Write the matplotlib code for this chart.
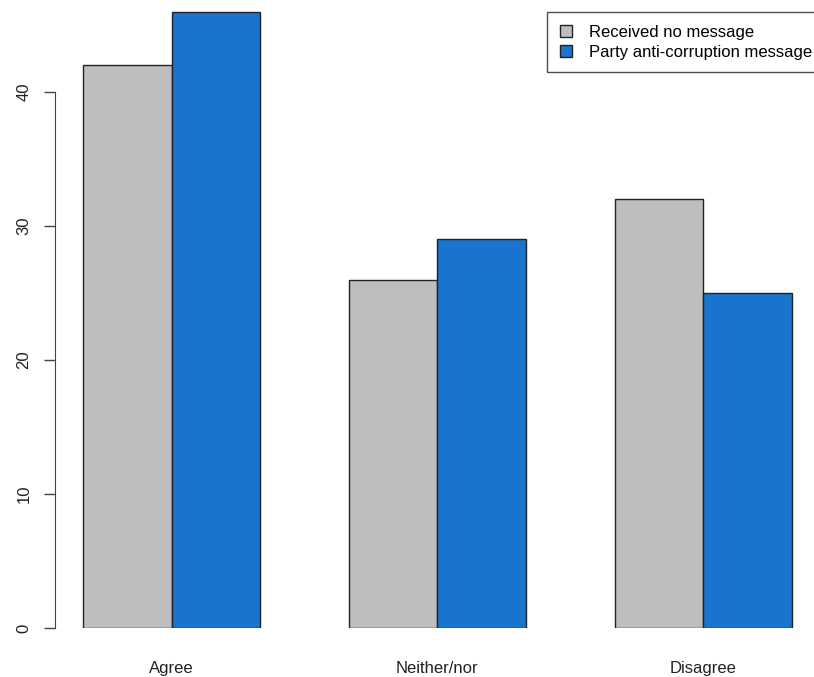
import numpy as np
import matplotlib.pyplot as plt
from matplotlib.patches import Patch

plt.rcParams["font.family"] = ["Liberation Sans", "DejaVu Sans"]

# survey answers, percent
categories = ["Agree", "Neither/nor", "Disagree"]
no_message = [42, 26, 32]
party_message = [46, 29, 25]
series_names = ["Received no message", "Party anti-corruption message"]
colors = ["#BEBEBE", "#1874CD"]

W, H = 814, 677
fig = plt.figure(figsize=(W / 100, H / 100), dpi=100)
# axes placed so the left spine is the R-style y axis and the bottom is y=0
ax = fig.add_axes([55 / W, 49 / H, (W - 55) / W, 628 / H])

# R barplot(beside=TRUE) layout: bar lefts at 1,2 / 4,5 / 7,8
lefts = np.array([1, 4, 7])
ax.bar(lefts, no_message, width=1, align="edge", color=colors[0],
       edgecolor="#222222", linewidth=1)
ax.bar(lefts + 1, party_message, width=1, align="edge", color=colors[1],
       edgecolor="#222222", linewidth=1)

ax.set_xlim(0.684, 0.684 + (W - 55) / 88.6)
ax.set_ylim(0, 628 / 13.4)

for s in ["top", "right", "bottom"]:
    ax.spines[s].set_visible(False)
ax.spines["left"].set_bounds(0, 40)
ax.spines["left"].set_color("#444444")

ax.set_yticks([0, 10, 20, 30, 40])
ax.set_yticklabels(["0", "10", "20", "30", "40"], rotation=90, va="center",
                   fontsize=12, color="#222222")
ax.tick_params(axis="y", length=8, width=1, color="#444444", pad=9)

ax.set_xticks(lefts + 1)
ax.set_xticklabels(categories, fontsize=12, color="#222222")
ax.tick_params(axis="x", length=0, pad=24)

handles = [Patch(facecolor=c, edgecolor="#222222") for c in colors]
leg = ax.legend(handles, series_names, loc="upper left",
                bbox_to_anchor=(547 / W, 1 - 12 / H), bbox_transform=fig.transFigure,
                fontsize=12, frameon=True, fancybox=False, edgecolor="#222222",
                handlelength=0.75, handleheight=0.75, handletextpad=1.0,
                borderpad=0.75, labelspacing=0.3, borderaxespad=0)
leg.get_frame().set_linewidth(1)

fig.savefig("out.png", dpi=100)
